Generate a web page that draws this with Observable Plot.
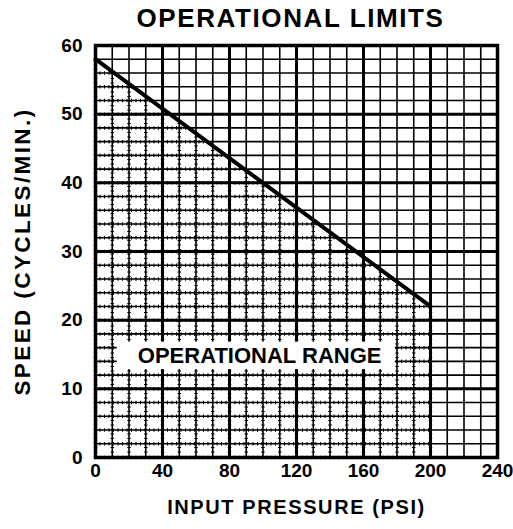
<!DOCTYPE html>
<html>
<head>
<meta charset="utf-8">
<script src="https://cdn.jsdelivr.net/npm/d3@7"></script>
<script src="https://cdn.jsdelivr.net/npm/@observablehq/plot@0.6"></script>
<style>
  html, body { margin: 0; padding: 0; background: #fff; }
  #title { font-family: "Liberation Sans", Arial, sans-serif; font-weight: bold; font-size: 26px; letter-spacing: 1.6px;
           height: 36px; line-height: 36px; text-align: center; padding-left: 68px; box-sizing: border-box; width: 513px; color: #000; }
  g[aria-label="x-axis label"] text { font-size: 20px; letter-spacing: 1.6px; }
  g[aria-label="y-axis label"] text { font-size: 22.5px; letter-spacing: 2.4px; }
</style>
</head>
<body>
<div id="title">OPERATIONAL LIMITS</div>
<div id="chart"></div>
<script>
// Data
const pressure = [0, 200];      // PSI
const speed = [58, 22];         // cycles/min
const xTicks = [0, 40, 80, 120, 160, 200, 240];
const yTicks = [0, 10, 20, 30, 40, 50, 60];
const xGrid = [0,10,20,30,40,50,60,70,80,90,100,110,120,130,140,150,160,170,180,190,200,210,220,230,240];
const yGrid = [0,2,4,6,8,10,12,14,16,18,20,22,24,26,28,30,32,34,36,38,40,42,44,46,48,50,52,54,56,58,60];
const xMajor = [40, 80, 120, 160, 200];
const yMajor = [10, 20, 30, 40, 50];
const rangeLabel = "OPERATIONAL RANGE";

const limit = d3.scaleLinear().domain(pressure).range(speed);
const pts = pressure.map((p, i) => ({p, s: speed[i]}));
const vSeg = xGrid.filter(x => x <= pressure[1]).map(x => ({x, y2: limit(x)}));
const hSeg = yGrid.filter(y => y <= speed[0]).map(y => ({y, x2: y >= speed[1] ? limit.invert(y) : pressure[1]}));

const chart = Plot.plot({
  width: 513,
  height: 493,
  marginTop: 9,
  marginBottom: 72,
  marginLeft: 95,
  marginRight: 16,
  style: {fontFamily: "Liberation Sans, Arial, sans-serif", fontSize: "19px", fontWeight: "bold", color: "#000", background: "#fff"},
  x: {domain: [0, 240], ticks: xTicks, tickSize: 0, tickPadding: 6, label: "INPUT PRESSURE (PSI)", labelAnchor: "center", labelOffset: 56, labelArrow: "none"},
  y: {domain: [0, 60], ticks: yTicks, tickSize: 0, tickPadding: 13, label: "SPEED (CYCLES/MIN.)", labelAnchor: "center", labelOffset: 81, labelArrow: "none"},
  marks: [
    Plot.ruleX(xGrid, {stroke: "#000", strokeWidth: 1.6}),
    Plot.ruleY(yGrid, {stroke: "#000", strokeWidth: 1.6}),
    // stippled texture inside the operational range
    Plot.ruleX(vSeg, {x: "x", y1: 0, y2: "y2", stroke: "#000", strokeWidth: 3.5, strokeDasharray: "1,3.5"}),
    Plot.ruleY(hSeg, {y: "y", x1: 0, x2: "x2", stroke: "#000", strokeWidth: 3.5, strokeDasharray: "1,3.5"}),
    Plot.ruleX(xMajor, {stroke: "#000", strokeWidth: 3}),
    Plot.ruleY(yMajor, {stroke: "#000", strokeWidth: 3}),
    Plot.rect([rangeLabel], {x1: 13, x2: 179, y1: 12.8, y2: 16.8, fill: "#fff"}),
    Plot.text([rangeLabel], {x: 98, y: 14.8, text: d => d, fontSize: 22, fontWeight: "bold", fill: "#000", letterSpacing: 0.4}),
    Plot.line(pts, {x: "p", y: "s", stroke: "#000", strokeWidth: 4}),
    Plot.frame({stroke: "#000", strokeWidth: 3.5})
  ]
});
document.getElementById("chart").appendChild(chart);
</script>
</body>
</html>
